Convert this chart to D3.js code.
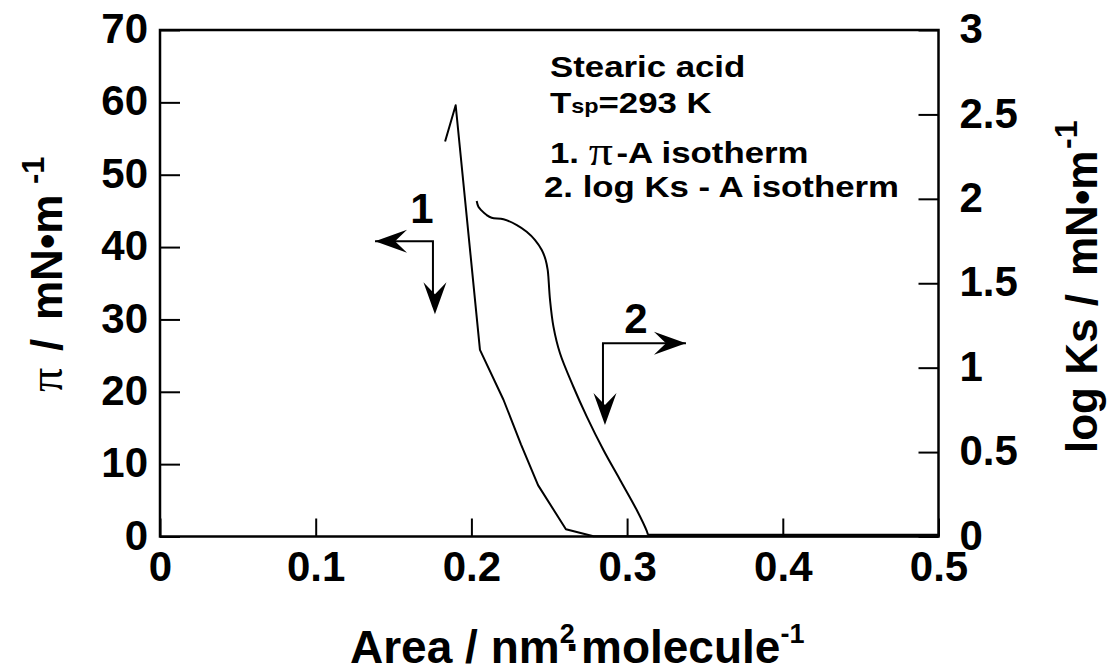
<!DOCTYPE html>
<html>
<head>
<meta charset="utf-8">
<script src="https://cdn.jsdelivr.net/npm/d3@7"></script>
<style>
  html, body { margin: 0; padding: 0; background: #fff; }
  svg { display: block; }
  text { font-family: "Liberation Sans", Arial, Helvetica, sans-serif; font-weight: bold; fill: #000; }
  .greek { font-family: "Liberation Serif", "Times New Roman", serif; font-weight: normal; }
</style>
</head>
<body>
<svg id="chart" width="1118" height="672"></svg>
<script>
// Axis ticks and their labels
const areaTicks = [0, 0.1, 0.2, 0.3, 0.4, 0.5];
const areaLabels = ["0", "0.1", "0.2", "0.3", "0.4", "0.5"];
const piTicks = [0, 10, 20, 30, 40, 50, 60, 70];
const piLabels = ["0", "10", "20", "30", "40", "50", "60", "70"];
const ksTicks = [0, 0.5, 1, 1.5, 2, 2.5, 3];
const ksLabels = ["0", "0.5", "1", "1.5", "2", "2.5", "3"];

// Curve 1: surface pressure π (mN/m) vs. area per molecule (nm²)
const piArea  = [0.1831, 0.1899, 0.2055, 0.2206, 0.2319, 0.2428, 0.2607, 0.2784, 0.5];
const piValue = [54.6,   59.6,   25.8,   18.9,   12.7,   7.1,    1.0,    0.04,   0.03];

// Curve 2: log Ks vs. area per molecule (nm²)
const ksArea  = [0.2034, 0.2045, 0.2066, 0.2098, 0.2130, 0.2206, 0.2292, 0.2355, 0.2409, 0.2452,
                 0.2477, 0.2490, 0.2494, 0.2505, 0.2527, 0.2569, 0.2655, 0.2741, 0.2848, 0.2955,
                 0.3062, 0.3126, 0.3134, 0.5];
const ksValue = [1.987, 1.953, 1.930, 1.904, 1.888, 1.879, 1.845, 1.805, 1.756, 1.697,
                 1.638, 1.579, 1.543, 1.401, 1.243, 1.085, 0.887, 0.710, 0.512, 0.335,
                 0.157, 0.033, 0.01, 0.01];

// Direction arrows (area, π) — corner, horizontal tip, vertical tip
const arrowCorner = [[0.1753, 40.8], [0.2845, 26.7]];
const arrowHorizTip = [0.1381, 0.3378];
const arrowVertTip = [30.7, 15.4];
const arrowTags = ["1", "2"];
const arrowTagPos = [[0.1683, 43.3], [0.3057, 28.1]];

const svg = d3.select("#chart");
const plotLeft = 160, plotRight = 938.5, plotTop = 30, plotBottom = 536.5;

const x = d3.scaleLinear().domain([0, 0.5]).range([plotLeft, plotRight]);
const yPi = d3.scaleLinear().domain([0, 70]).range([plotBottom, plotTop]);
const yKs = d3.scaleLinear().domain([0, 3]).range([plotBottom, plotTop]);

// Axes with inward ticks
const gx = svg.append("g").attr("transform", `translate(0,${plotBottom})`)
  .call(d3.axisBottom(x).tickValues(areaTicks).tickSizeInner(-18).tickSizeOuter(0)
    .tickPadding(15).tickFormat((d, i) => areaLabels[i]));
const gl = svg.append("g").attr("transform", `translate(${plotLeft},0)`)
  .call(d3.axisLeft(yPi).tickValues(piTicks).tickSizeInner(-20).tickSizeOuter(0)
    .tickPadding(12).tickFormat((d, i) => piLabels[i]));
const gr = svg.append("g").attr("transform", `translate(${plotRight},0)`)
  .call(d3.axisRight(yKs).tickValues(ksTicks).tickSizeInner(-20).tickSizeOuter(0)
    .tickPadding(21).tickFormat((d, i) => ksLabels[i]));

[gx, gl, gr].forEach(g => {
  g.select(".domain").remove();
  g.attr("font-family", null).attr("font-size", null);
  g.selectAll(".tick line").attr("stroke", "#000").attr("stroke-width", 2);
  g.selectAll(".tick text").attr("font-size", 42).attr("fill", "#000");
});
gl.selectAll(".tick text").attr("dy", "0.3em");
gr.selectAll(".tick text").attr("dy", "0.3em");

// Frame
svg.append("rect")
  .attr("x", plotLeft).attr("y", plotTop)
  .attr("width", plotRight - plotLeft).attr("height", plotBottom - plotTop)
  .attr("fill", "none").attr("stroke", "#000").attr("stroke-width", 2.5);

// Curves
const piLine = d3.line().x(i => x(piArea[i])).y(i => yPi(piValue[i]));
svg.append("path")
  .attr("d", piLine(d3.range(piArea.length)))
  .attr("fill", "none").attr("stroke", "#000").attr("stroke-width", 2)
  .attr("stroke-linejoin", "round");

// Smooth part of curve 2, then a straight run along zero
const nKs = ksArea.length;
const ksSmooth = d3.line().curve(d3.curveCatmullRom.alpha(0.5))
  .x(i => x(ksArea[i])).y(i => yKs(ksValue[i]));
const ksStraight = d3.line().x(i => x(ksArea[i])).y(i => yKs(ksValue[i]));
svg.append("path")
  .attr("d", ksSmooth(d3.range(nKs - 1)))
  .attr("fill", "none").attr("stroke", "#000").attr("stroke-width", 2)
  .attr("stroke-linejoin", "round");
svg.append("path")
  .attr("d", ksStraight([nKs - 2, nKs - 1]))
  .attr("fill", "none").attr("stroke", "#000").attr("stroke-width", 2);

// Arrows
const head = "M0,0 L-32,-11.5 L-20,0 L-32,11.5 Z";
arrowCorner.forEach((c, i) => {
  const cx = x(c[0]), cy = yPi(c[1]);
  const hx = x(arrowHorizTip[i]), vy = yPi(arrowVertTip[i]);
  svg.append("path")
    .attr("d", `M${hx},${cy} L${cx},${cy} L${cx},${vy - 8}`)
    .attr("fill", "none").attr("stroke", "#000").attr("stroke-width", 2);
  const hAngle = hx < cx ? 180 : 0;
  svg.append("path").attr("d", head)
    .attr("transform", `translate(${hx},${cy}) rotate(${hAngle})`);
  svg.append("path").attr("d", head)
    .attr("transform", `translate(${cx + 2},${vy}) rotate(90)`);
  svg.append("text")
    .attr("x", x(arrowTagPos[i][0])).attr("y", yPi(arrowTagPos[i][1]))
    .attr("text-anchor", "middle").attr("font-size", 42)
    .text(arrowTags[i]);
});

// Annotation block
const note = svg.append("g");
function noteLine(px, py) {
  return note.append("text").attr("font-size", 29)
    .attr("transform", `translate(${px},${py}) scale(1.2,1)`);
}
noteLine(550, 76.7).text("Stearic acid");
const t2 = noteLine(550, 113.3);
t2.append("tspan").text("T");
t2.append("tspan").attr("font-size", 19.5).text("sp");
t2.append("tspan").text("=293 K");
const t3 = noteLine(550, 163.3);
t3.append("tspan").text("1. ");
t3.append("tspan").attr("class", "greek").attr("font-size", 40).attr("dy", 2).text("π");
t3.append("tspan").attr("dx", 3).attr("dy", -2).text("-A isotherm");
noteLine(544, 196.7).text("2. log Ks - A isotherm");

// Axis titles
const xt = svg.append("text").attr("x", 350).attr("y", 663).attr("font-size", 46);
xt.append("tspan").text("Area / nm");
xt.append("tspan").attr("font-size", 27).attr("dy", -20).text("2");
xt.append("tspan").attr("dy", 20).attr("dx", -9).text("·");
xt.append("tspan").text("molecule");
xt.append("tspan").attr("font-size", 27).attr("dy", -20).text("-1");

// Rotated titles: tspan x runs along the text (screen y = -x)
const lt = svg.append("text").attr("font-size", 44)
  .attr("transform", "translate(62,0) rotate(-90)");
lt.append("tspan").attr("class", "greek").attr("font-size", 48).attr("x", -392).text("π");
lt.append("tspan").attr("x", -351).text("/");
lt.append("tspan").attr("x", -320).text("mN•m");
lt.append("tspan").attr("font-size", 31).attr("x", -184).attr("dy", -18).text("-1");

const rt = svg.append("text").attr("font-size", 44)
  .attr("transform", "translate(1097,0) rotate(-90)");
rt.append("tspan").attr("x", -453).text("log Ks /");
rt.append("tspan").attr("x", -276).text("mN•m");
rt.append("tspan").attr("font-size", 32).attr("x", -149).attr("dy", -20).text("-1");
</script>
</body>
</html>
